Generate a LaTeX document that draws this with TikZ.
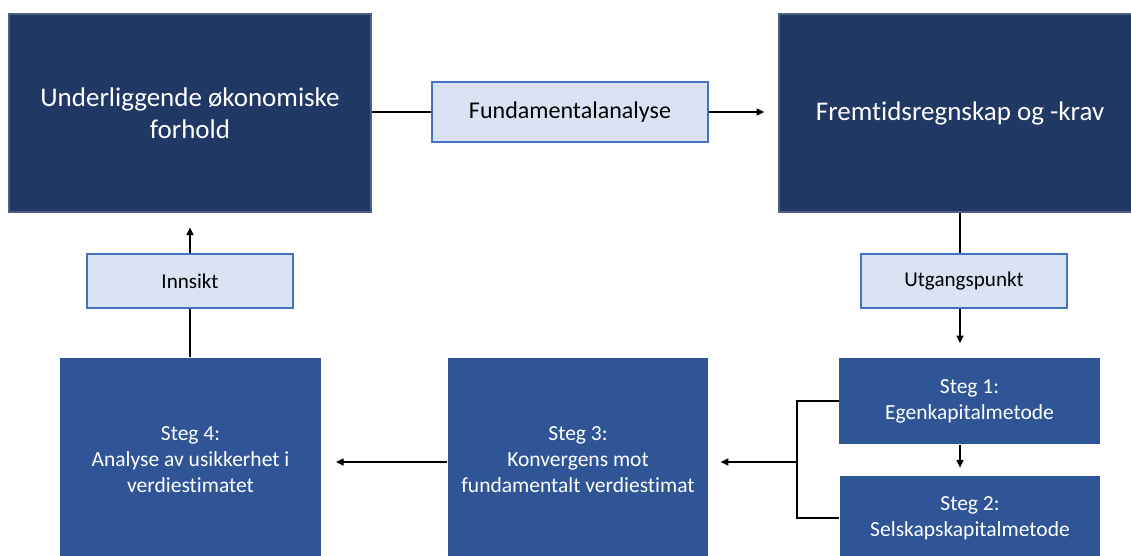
\documentclass[tikz,border=0pt]{standalone}
\usepackage{fontspec}
\setmainfont{Carlito}[Ligatures=NoCommon]
\usetikzlibrary{positioning,calc,arrows.meta}

\definecolor{navy}{HTML}{203864}
\definecolor{stegblue}{HTML}{2F5597}
\definecolor{lightfill}{HTML}{DAE3F3}
\definecolor{lightedge}{HTML}{4472C4}

\begin{document}
\begin{tikzpicture}[x=0.025cm, y=-0.025cm,
	mainbox/.style={fill=navy, draw=navy!80!white, text=white, align=center, minimum width=9.05cm, minimum height=4.95cm, inner sep=0pt, font=\fontsize{19.2}{22.8}\selectfont},
	stegbox/.style={fill=stegblue, text=white, align=center, minimum width=6.5cm, inner sep=0pt, font=\fontsize{15.3}{18.5}\selectfont},
	labelbox/.style={fill=lightfill, draw=lightedge, line width=0.9pt, text=black, minimum width=5.15cm, minimum height=1.35cm, inner sep=0pt, font=\fontsize{15}{18}\selectfont},
	>={Triangle[length=5.5pt, width=5pt]}, line width=0.9pt]
	\useasboundingbox (0,0) rectangle (1131,555);
	\clip (0,0) rectangle (1131,555);
	\node[mainbox] (Under) at (190,113) {Underliggende økonomiske\\forhold};
	\node[mainbox] (Frem) at (960,113) {Fremtidsregnskap og -krav};
	\node[labelbox, minimum width=6.9cm, minimum height=1.5cm, font=\fontsize{17.1}{20}\selectfont] (Fund) at (570,112) {Fundamentalanalyse};
	\node[labelbox] (Utg) at (964,281) {Utgangspunkt};
	\node[labelbox] (Inn) at (190,281) {Innsikt};
	\node[stegbox, minimum height=2.15cm] (S1) at (969.5,401) {Steg 1:\\Egenkapitalmetode};
	\node[stegbox, minimum height=2.1cm] (S2) at (970,518) {Steg 2:\\Selskapskapitalmetode};
	\node[stegbox, minimum height=5.1cm] (S3) at (578,460) {Steg 3:\\Konvergens mot\\fundamentalt verdiestimat};
	\node[stegbox, minimum height=5.1cm] (S4) at (190.5,460) {Steg 4:\\Analyse av usikkerhet i\\verdiestimatet};
	\coordinate (V) at (960,0);
	\coordinate (J) at (797,462);
	\draw (Under.east |- Fund) -- (Fund.west);
	\draw[->, shorten >=10pt] (Fund.east) -- (Fund.east -| Frem.west);
	\draw (Frem.south -| V) -- (Utg.north -| V);
	\draw[->, shorten >=10pt] (Utg.south -| V) -- (S1.north -| V);
	\draw[->, shorten >=5.5pt] (S1.south -| V) -- (S2.north -| V);
	\draw (S1.west) -| (J) |- (S2.west);
	\draw[->, shorten >=8.5pt] (J) -- (J -| S3.east);
	\draw[->, shorten >=10.5pt] (S3.west |- J) -- (S4.east |- J);
	\draw (S4.north -| Inn) -- (Inn.south);
	\draw[->, shorten >=10.5pt] (Inn.north) -- (Inn.north |- Under.south);
\end{tikzpicture}
\end{document}
